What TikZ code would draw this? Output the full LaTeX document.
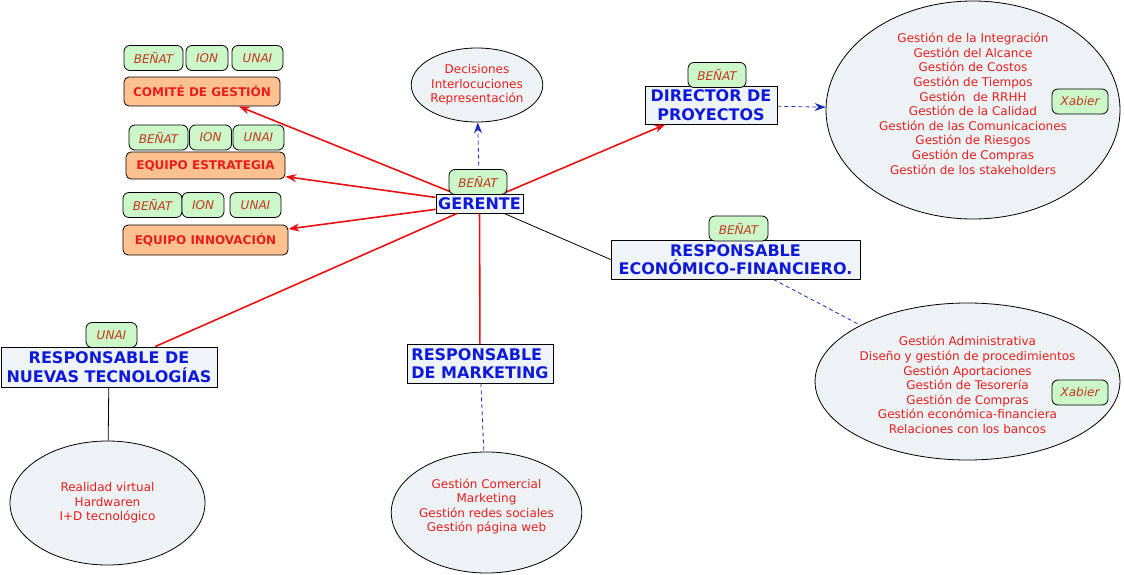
\documentclass[tikz,border=0pt]{standalone}
\usepackage{fontspec}
\setmainfont{DejaVu Sans}
\usetikzlibrary{arrows.meta,shapes.geometric}
\definecolor{chieffill}{HTML}{EEF4F8}
\definecolor{ovalfill}{HTML}{EDF3F5}
\definecolor{whofill}{HTML}{CCF7C8}
\definecolor{teamfill}{HTML}{FFC18F}
\definecolor{itemred}{HTML}{E61E1E}
\definecolor{bossblue}{HTML}{0F19D8}
\definecolor{whored}{HTML}{C2381E}
\definecolor{linkred}{HTML}{E81010}
\definecolor{linkblue}{HTML}{1A2DB8}
\begin{document}
\begin{tikzpicture}[x=1pt,y=-1pt,>={Stealth[length=11pt,width=8pt]},
	chief/.style={draw,fill=chieffill,text=bossblue,font=\bfseries\fontsize{16}{18.5}\selectfont,align=center,inner sep=0pt,line width=.8pt},
	team/.style={draw,rounded corners=5pt,fill=teamfill,text=itemred,font=\bfseries\fontsize{12}{14}\selectfont,inner sep=0pt,line width=.8pt},
	who/.style={draw,rounded corners=6pt,fill=whofill,text=whored,font=\itshape\fontsize{12}{14}\selectfont,inner sep=0pt,minimum height=25,line width=.8pt},
	task/.style={draw,ellipse,fill=ovalfill,text=itemred,font=\fontsize{12}{14.6}\selectfont,align=center,inner sep=0pt,line width=.8pt},
	lead/.style={draw=linkred,line width=1.6pt},
	hint/.style={draw=linkblue,dash pattern=on 4pt off 3pt,line width=.8pt},
	plain/.style={draw=black,line width=.8pt}]
	\useasboundingbox (0,0) rectangle (1124,575);
	\node[chief,minimum width=87,minimum height=19] (ger) at (479.5,203.5) {GERENTE};
	\node[chief,minimum width=132,minimum height=38] (dir) at (711,105) {DIRECTOR DE\\PROYECTOS};
	\node[chief,minimum width=249,minimum height=39] (eco) at (735.5,259.5) {RESPONSABLE\\ECONÓMICO-FINANCIERO.};
	\node[chief,minimum width=216,minimum height=40] (nt) at (109,367) {RESPONSABLE DE\\NUEVAS TECNOLOGÍAS};
	\node[chief,align=left,minimum width=146,minimum height=39] (mkt) at (480,363.5) {RESPONSABLE\\DE MARKETING};
	\node[task,minimum width=126,minimum height=74] (dec) at (477,85) {Decisiones\\Interlocuciones\\Representación};
	\node[task,minimum width=294,minimum height=218] (proj) at (973,110) {Gestión de la Integración\\Gestión del Alcance\\Gestión de Costos\\Gestión de Tiempos\\Gestión\ \ de RRHH\\Gestión de la Calidad\\Gestión de las Comunicaciones\\Gestión de Riesgos\\Gestión de Compras\\Gestión de los stakeholders\\[-2pt]\mbox{}};
	\node[task,minimum width=295,minimum height=157] (fin) at (967.5,381.5) {\mbox{}\\[2pt]Gestión Administrativa\\Diseño y gestión de procedimientos\\Gestión Aportaciones\\Gestión de Tesorería\\Gestión de Compras\\Gestión económica-financiera\\Relaciones con los bancos};
	\node[task,minimum width=195,minimum height=124] (tec) at (107.5,503) {Realidad virtual\\Hardwaren\\I+D tecnológico};
	\node[task,minimum width=187,minimum height=121] (web) at (486.5,512.5) {Gestión Comercial\\Marketing\\Gestión redes sociales\\Gestión página web\\\mbox{}};
	\node[team,minimum width=156,minimum height=29] (cg) at (202,91.5) {COMITÉ DE GESTIÓN};
	\node[team,minimum width=159,minimum height=27] (ee) at (205.5,165.5) {EQUIPO ESTRATEGIA};
	\node[team,minimum width=165,minimum height=30] (ei) at (205.5,240) {EQUIPO INNOVACIÓN};
	\foreach \t in {cg,ee,ei,dir}\draw[lead,->](ger)--(\t);
	\draw[lead](ger)--(nt) (ger)--(mkt);
	\draw[plain](ger.-22)--(eco.west) (nt)--(tec);
	\draw[hint,->](ger)--(dec);
	\draw[hint,->](dir)--(proj);
	\draw[hint](eco)--(fin) (mkt)--(web);
	\foreach \r/\y/\a/\b/\c in {cg/58/153.5/207/257.5,ee/137.5/158.5/210.5/258.5,ei/205/152.5/203/255.5}{
		\node[who,minimum width=59] (\r-1) at (\a,\y) {BEÑAT};
		\node[who,minimum width=42] (\r-2) at (\b,\y) {ION};
		\node[who,minimum width=51] (\r-3) at (\c,\y) {UNAI};}
	\node[who,minimum width=58] (ger-t) at (478,182) {BEÑAT};
	\node[who,minimum width=58] (dir-t) at (717,75) {BEÑAT};
	\node[who,minimum width=59] (eco-t) at (738.5,228.5) {BEÑAT};
	\node[who,minimum width=51] (nt-t) at (111.5,335) {UNAI};
	\node[who,minimum width=56] (proj-t) at (1080,101.5) {Xabier};
	\node[who,minimum width=56] (fin-t) at (1080,392.5) {Xabier};
\end{tikzpicture}
\end{document}
